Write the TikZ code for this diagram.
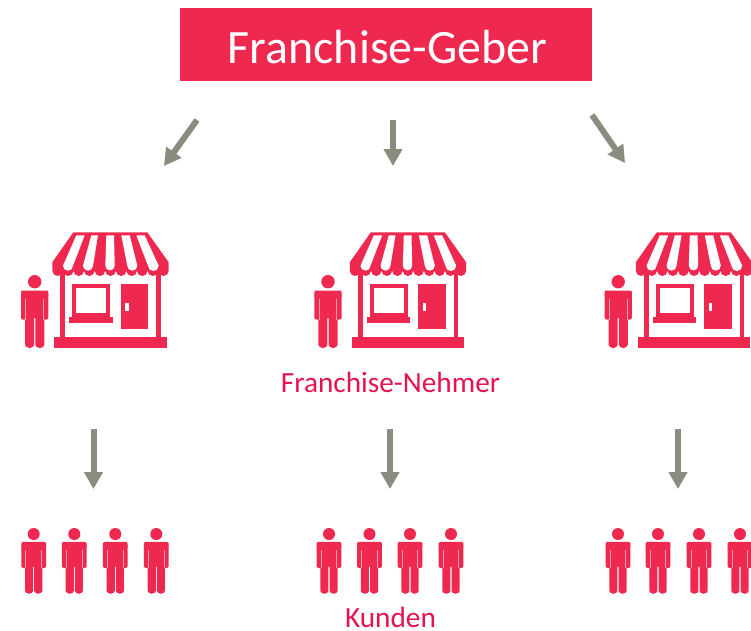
\documentclass[tikz,border=0pt]{standalone}
\usepackage{fontspec}
\setmainfont{Carlito}
\usetikzlibrary{arrows.meta}
\definecolor{fred}{HTML}{EF2850}
\definecolor{fgrey}{HTML}{8C8B80}
\definecolor{ftext}{HTML}{E6134F}
\tikzset{
  flow/.style={draw=fgrey,line width=6pt,-{Triangle[width=18pt,length=17pt]},shorten >=0pt},
  lbl/.style={text=ftext,font=\fontsize{29.3pt}{32pt}\selectfont,inner sep=0pt,anchor=base},
  person/.pic={
    \fill[fred] (0,6.7) circle (6.7);
    % torso and legs
    \fill[fred,rounded corners=1.2pt] (-13.7,15.5) -- (13.7,15.5) -- (13.7,22) -- (9.6,22) -- (9.6,42) -- (9.6,68.6) arc[start angle=0,end angle=180,radius=4.5] -- (0.6,42) -- (-0.6,42) -- (-0.6,68.6) arc[start angle=0,end angle=180,radius=4.5] -- (-9.6,22) -- (-13.7,22) -- cycle;
    % arms
    \fill[fred,rounded corners=1.5pt] (-13.7,18) rectangle (-8.5,44.5);
    \fill[fred,rounded corners=1.5pt] (8.5,18) rectangle (13.7,44.5);
    \fill[white,opacity=.55] (-9.3,24) rectangle (-8.3,44.5);
    \fill[white,opacity=.55] (8.3,24) rectangle (9.3,44.5);
  },
  shopicon/.pic={
    % walls, base
    \fill[fred] (7.7,36) rectangle (12.7,105);
    \fill[fred] (103.7,36) rectangle (108.4,105);
    \fill[fred] (1.7,104.5) rectangle (114.4,115.5);
    % window
    \draw[fred,line width=4pt] (22,53.7) rectangle (55.7,82.4);
    \fill[fred] (17,84.4) rectangle (60.4,90.4);
    % door
    \fill[fred] (68.4,51.7) rectangle (95.7,97);
    \fill[white] (73,70.3) rectangle (76.4,78.7);
    % awning
    \fill[fred] (21,0) -- (95,0) -- (116.4,30) -- (116.4,38.4)
      \foreach \i in {1,...,11}{ arc[start angle=0,end angle=180,radius=5.29] }
      -- (0,30) -- cycle;
    \foreach \ta/\tb/\ba/\bb in {24/32.4/10.7/20.7,39/45.7/30.7/40.7,54/61.7/53/62.4,69/77.4/75/85,84/92.4/95.7/106.4}{
      \pgfmathsetmacro{\rr}{(\bb-\ba)/2}
      \fill[white] (\ta,3) -- (\tb,3) -- (\bb,33.4) arc[start angle=0,end angle=180,radius=\rr] -- cycle;
    }
  }
}
\begin{document}
\begin{tikzpicture}[x=1pt,y=-1pt]
\useasboundingbox (0,0) rectangle (751,630);
\clip (0,0) rectangle (751,630);
\node[name=geber,fill=fred,minimum width=412pt,minimum height=73pt,inner sep=0pt] at (386,44.5) {};
\node[name=gebertext,text=white,inner sep=0pt,anchor=base,font=\fontsize{47.9pt}{50pt}\selectfont] at (387.5,63) {Franchise-Geber};
\coordinate (a1s) at (197,120); \coordinate (a1e) at (164,166);
\coordinate (a2s) at (393,120); \coordinate (a2e) at (393,166);
\coordinate (a3s) at (592,115); \coordinate (a3e) at (625,163);
\coordinate (b1s) at (93.5,429); \coordinate (b1e) at (93.5,489);
\coordinate (b2s) at (390,429); \coordinate (b2e) at (390,489);
\coordinate (b3s) at (678,429); \coordinate (b3e) at (678,489);
\foreach \s/\e in {a1s/a1e,a2s/a2e,a3s/a3e,b1s/b1e,b2s/b2e,b3s/b3e}{\draw[flow] (\s) -- (\e);}
\foreach \o in {52.3,349.8,635.8}{\pic at (\o,232.3) {shopicon};}
\foreach \o in {34.7,328,618.2}{\pic at (\o,275) {person};}
\foreach \o in {33.7,74.3,115.3,156.3,329,369.5,410,451,618,658,699,740}{\pic[scale=0.9] at (\o,528) {person};}
\node[lbl] (nehmer) at (390.5,392) {Franchise-Nehmer};
\node[lbl] (kunden) at (390.5,627) {Kunden};
\end{tikzpicture}
\end{document}
